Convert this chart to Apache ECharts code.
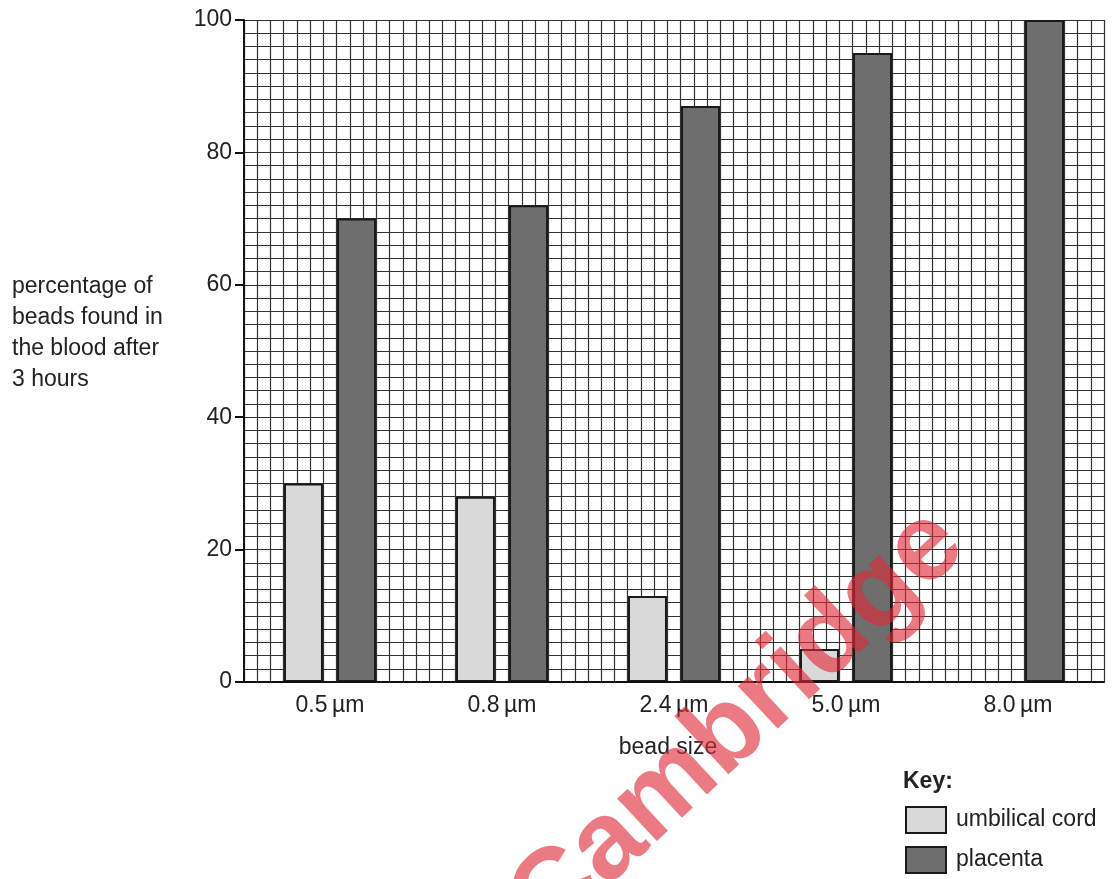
<!DOCTYPE html>
<html>
<head>
<meta charset="utf-8">
<script src="https://cdn.jsdelivr.net/npm/echarts@6/dist/echarts.min.js"></script>
<style>
html,body{margin:0;padding:0;background:#fff;}
#chart{width:1120px;height:879px;}
</style>
</head>
<body>
<div id="chart"></div>
<script>
const categories = ['0.5\u2009\u00B5m', '0.8\u2009\u00B5m', '2.4\u2009\u00B5m', '5.0\u2009\u00B5m', '8.0\u2009\u00B5m'];
const umbilicalCord = [30, 28, 13, 5, 0];
const placenta = [70, 72, 87, 95, 100];
const yTitleLines = ['percentage of', 'beads found in', 'the blood after', '3 hours'];

const FONT = "'Liberation Sans', Arial, sans-serif";
const chart = echarts.init(document.getElementById('chart'));

chart.setOption({
  backgroundColor: '#ffffff',
  animation: false,
  grid: { left: 244, top: 20, right: 16, bottom: 197, containLabel: false },
  legend: {
    orient: 'vertical', left: 905, top: 806, padding: 0,
    itemWidth: 40, itemHeight: 26, itemGap: 12, icon: 'rect',
    textStyle: { fontSize: 23, color: '#222', fontFamily: FONT, padding: [0, 0, 0, 5] },
    data: ['umbilical cord', 'placenta']
  },
  xAxis: [
    {
      type: 'category', data: categories, position: 'bottom',
      axisLine: { show: true, lineStyle: { color: '#111', width: 2 } },
      axisTick: { show: false },
      axisLabel: { fontSize: 23, color: '#222', fontFamily: FONT, margin: 12 },
      splitLine: { show: false }, z: 5
    },
    {
      type: 'value', min: 0, max: 65, interval: 1, position: 'bottom',
      axisLine: { show: false }, axisTick: { show: false }, axisLabel: { show: false },
      splitLine: { show: true, lineStyle: { color: '#333', width: 1.2 } }
    }
  ],
  yAxis: [
    {
      type: 'value', min: 0, max: 100, interval: 20,
      axisLine: { show: true, lineStyle: { color: '#111', width: 2 } },
      axisTick: { show: true, inside: false, length: 9, lineStyle: { color: '#111', width: 2 } },
      axisLabel: { fontSize: 23, color: '#222', fontFamily: FONT, margin: 12 },
      splitLine: { show: false }, z: 5
    },
    {
      type: 'value', min: 0, max: 100, interval: 2, position: 'left',
      axisLine: { show: false }, axisTick: { show: false }, axisLabel: { show: false },
      splitLine: { show: true, lineStyle: { color: '#333', width: 1.2 } }
    }
  ],
  series: [
    {
      name: 'umbilical cord', type: 'bar', data: umbilicalCord,
      xAxisIndex: 0, yAxisIndex: 0, barWidth: 39, barGap: '36%',
      itemStyle: { color: '#d9d9d9', borderColor: '#1a1a1a', borderWidth: 2 }
    },
    {
      name: 'placenta', type: 'bar', data: placenta,
      xAxisIndex: 0, yAxisIndex: 0, barWidth: 39, barGap: '36%',
      itemStyle: { color: '#6e6e6e', borderColor: '#1a1a1a', borderWidth: 2 }
    }
  ],
  graphic: [
    {
      type: 'text', left: 12, top: 271,
      style: { text: yTitleLines.join('\n'), fontSize: 23, lineHeight: 31, fill: '#222', fontFamily: FONT }
    },
    {
      type: 'text', x: 668, y: 748,
      style: { text: 'bead size', fontSize: 23, fill: '#222', fontFamily: FONT, align: 'center', verticalAlign: 'middle' }
    },
    {
      type: 'text', left: 903, top: 770,
      style: { text: 'Key:', fontSize: 23, fontWeight: 'bold', fill: '#222', fontFamily: FONT }
    },
    {
      type: 'text', x: 738, y: 724, rotation: 0.75, z: 100,
      style: { text: 'Cambridge', fontSize: 110, fontWeight: 'bold', fontFamily: FONT,
               fill: 'rgba(225,40,55,0.62)', align: 'center', verticalAlign: 'middle' }
    }
  ]
});
</script>
</body>
</html>
